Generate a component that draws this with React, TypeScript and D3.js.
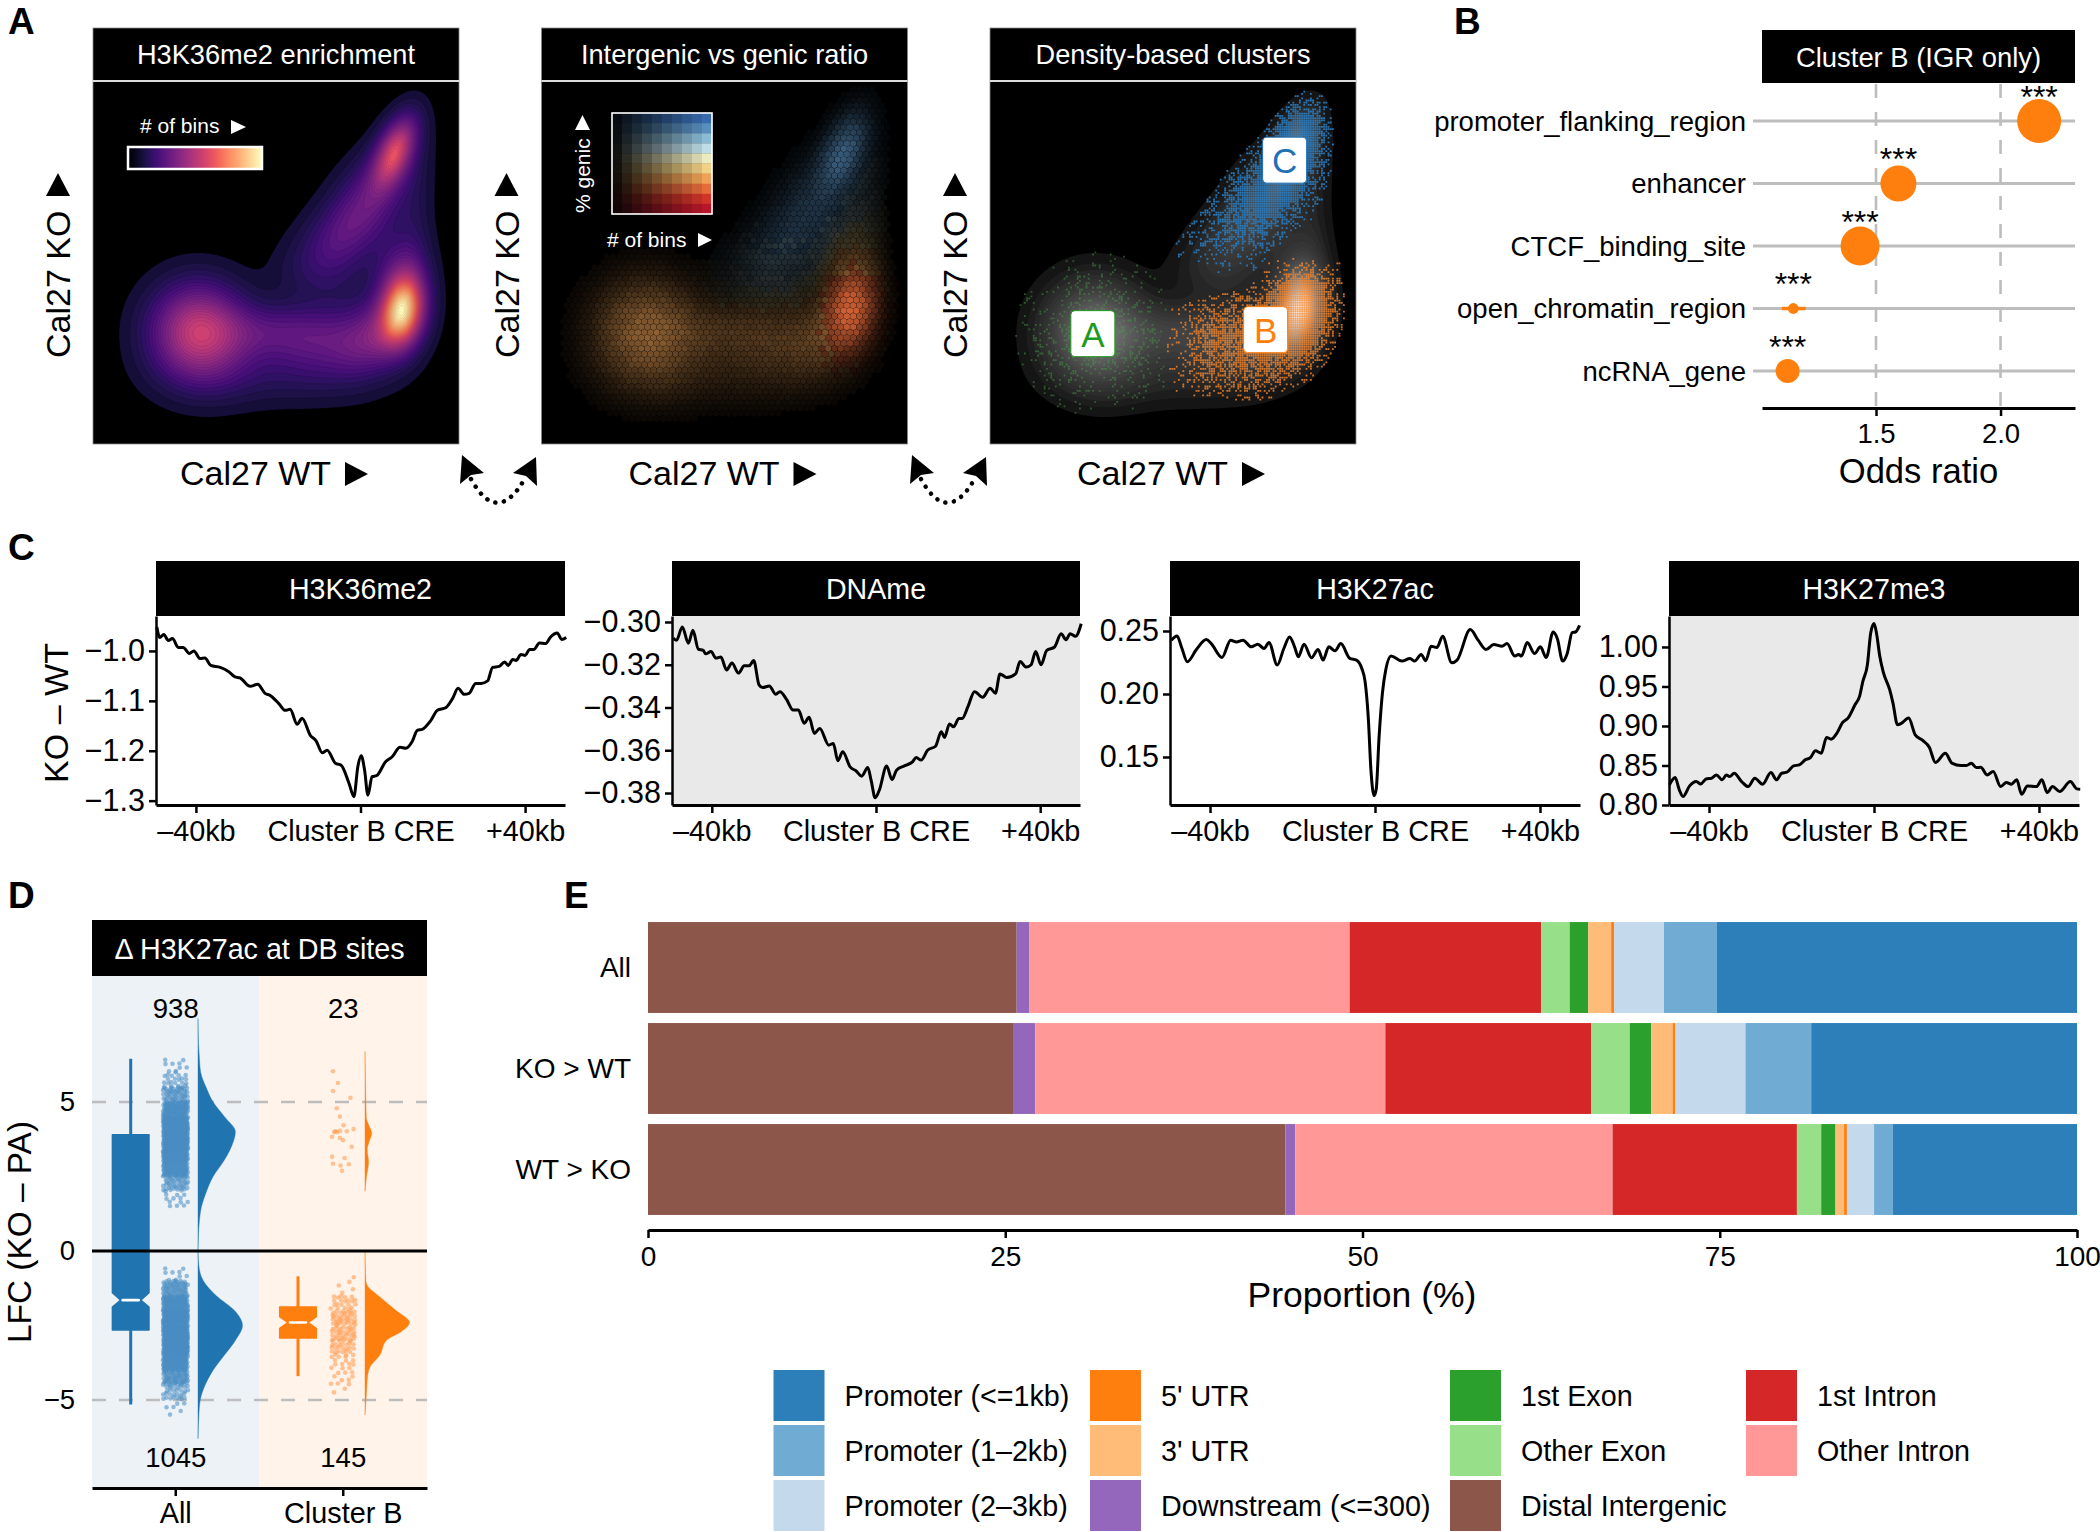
import React, { useEffect, useRef } from "react";
import * as d3 from "d3";

const FONT = "'Liberation Sans', Arial, sans-serif";

// ---------- Panel A: landscape of bins, described as Gaussian modes on the WT / KO axes (0-100)
const modeU = [28.7, 32, 84.5, 78, 64, 84, 48, 52, 82.5, 75, 66, 65, 88];
const modeV = [31.4, 22, 37, 30, 28, 48, 31, 18, 80.5, 67, 56, 46, 60];
const modeSU = [8.5, 10, 4.0, 7, 11, 5, 11, 18, 4.0, 8, 8.5, 9, 3.5];
const modeSV = [8.5, 7, 6.5, 7, 7, 7.5, 5, 5.5, 6.5, 10, 7.5, 6, 13];
const modeRho = [0, 0, 0.15, 0.3, 0.1, 0, 0, 0, 0.5, 0.55, 0.45, 0, 0];
const modeWeight = [0.45, 0.07, 0.82, 0.2, 0.17, 0.14, 0.13, 0.045, 0.5, 0.2, 0.1, 0.05, 0.05];
const modeGenic = [0.34, 0.34, 0.2, 0.31, 0.31, 0.31, 0.34, 0.34, 0.92, 0.9, 0.85, 0.6, 0.6];
const modeCluster = ["A", "A", "B", "B", "B", "B", "", "", "C", "C", "C", "", ""];
const genicRamp = ["#3a6fb5", "#5b93c6", "#8fc3de", "#c6e6f0", "#f6f5c8", "#fbd98a", "#f9a95a", "#ef6f3d", "#d9362a", "#c0182a"];
const clusterLabels = ["A", "B", "C"];
const clusterU = [28.1, 75.3, 80.5];
const clusterV = [30.4, 31.5, 78.2];
const clusterColors = ["#1f9a1f", "#ff7f0e", "#1f70b4"];
const panelATitles = ["H3K36me2 enrichment", "Intergenic vs genic ratio", "Density-based clusters"];
const panelALefts = [93, 541.5, 990];

// ---------- Panel B
const enrichNames = ["promoter_flanking_region", "enhancer", "CTCF_binding_site", "open_chromatin_region", "ncRNA_gene"];
const enrichOdds = [2.155, 1.59, 1.436, 1.168, 1.145];
const enrichSize = [22, 18, 19.5, 5.4, 12];

// ---------- Panel C
const tracesTitle = ["H3K36me2", "DNAme", "H3K27ac", "H3K27me3"];
const k36Kb = [-49.5,-48.8,-47.8,-46.7,-45.7,-44.3,-43.1,-41.6,-40.5,-39,-37.8,-36.4,-34.1,-32.1,-30.5,-29.3,-26.8,-25,-23.2,-22,-19.9,-18.3,-17.1,-15.4,-14.2,-12.2,-10.8,-9.3,-8.1,-6.1,-4.7,-2.8,-1.6,-0.65,0.16,1,1.8,2.8,3.9,6.1,7.7,9.6,11,12.6,13.8,15,17.1,18.7,20.7,22.4,23.7,25.2,26.4,28,29.3,30.9,32.1,33.7,35,35.9,37,37.8,39,40,41.1,42.1,43.5,45,46.2,47.8,48.9,50];
const k36Val = [-0.952,-0.973,-0.967,-0.979,-0.975,-0.993,-0.993,-1.005,-1,-1.015,-1.014,-1.029,-1.033,-1.041,-1.052,-1.054,-1.071,-1.067,-1.085,-1.089,-1.105,-1.119,-1.117,-1.147,-1.135,-1.169,-1.18,-1.204,-1.199,-1.225,-1.229,-1.265,-1.292,-1.232,-1.21,-1.239,-1.289,-1.252,-1.25,-1.222,-1.212,-1.193,-1.195,-1.181,-1.159,-1.157,-1.139,-1.119,-1.114,-1.095,-1.075,-1.087,-1.085,-1.065,-1.065,-1.06,-1.033,-1.031,-1.022,-1.029,-1.017,-1.019,-1.007,-1.009,-0.997,-0.997,-0.984,-0.985,-0.972,-0.964,-0.977,-0.973];
const dnaKb = [-49.4,-48.6,-47.2,-45.7,-44.6,-43.3,-42.1,-41.5,-40.2,-39,-37.8,-36.4,-35.1,-33.5,-32.1,-30.9,-29.8,-28.5,-27.6,-26,-24.4,-23.4,-21.8,-20.2,-18.9,-17.5,-16.3,-15,-13.7,-11.5,-10.4,-9.3,-8.1,-6.3,-4.9,-3.5,-2,-1.2,-0.2,0.8,2.6,3.9,5,6.9,8.9,9.8,11,12.6,14.5,15.9,16.7,17.9,18.9,20.2,21,22.4,24,26,27.8,29.1,30.2,31.9,34,35.1,36.6,37.8,38.9,40.2,41.6,43.5,45.1,46.3,47.3,48.6,50];
const dnaVal = [-0.3075,-0.3086,-0.3023,-0.3099,-0.3039,-0.3127,-0.3133,-0.3149,-0.3138,-0.3169,-0.3164,-0.3224,-0.3192,-0.3239,-0.3205,-0.3205,-0.318,-0.3294,-0.3307,-0.3299,-0.3338,-0.3326,-0.3362,-0.3412,-0.3412,-0.3474,-0.3446,-0.3521,-0.3498,-0.3576,-0.3568,-0.3649,-0.3607,-0.3678,-0.3696,-0.3721,-0.3681,-0.374,-0.3822,-0.3787,-0.3674,-0.3737,-0.3693,-0.3673,-0.3654,-0.3634,-0.3646,-0.3599,-0.3581,-0.3513,-0.354,-0.3477,-0.349,-0.3451,-0.3451,-0.3396,-0.3326,-0.3352,-0.331,-0.3333,-0.3243,-0.326,-0.3243,-0.3185,-0.3211,-0.32,-0.3138,-0.32,-0.3133,-0.3117,-0.3055,-0.3083,-0.3055,-0.3067,-0.3008];
const k27acKb = [-49.4,-48,-46.8,-45.5,-43.3,-40.9,-39.7,-37.1,-35,-33.6,-32,-30,-28.4,-26.9,-25.7,-23.7,-22.1,-20.7,-19.5,-18.6,-17.2,-15.4,-13.8,-12.6,-11.2,-9.7,-8.3,-6.1,-4.5,-3.2,-2.4,-1.6,-1,-0.2,0.3,1,1.8,2.6,3.9,6.5,8.5,9.6,11.2,12.3,13.6,15,16.4,18.6,19.9,23.1,25,26.9,28.8,30.8,32,33.9,34.8,35.5,36.9,38.7,40.1,41.5,43.2,44.2,45.5,46.6,47.8,48.6,49.6];
const k27acVal = [0.2427,0.2461,0.2361,0.2256,0.2353,0.2432,0.24,0.229,0.2427,0.2413,0.2427,0.2374,0.2395,0.2361,0.2408,0.223,0.2361,0.2453,0.2374,0.2295,0.2395,0.2287,0.2353,0.2269,0.2374,0.2343,0.24,0.2282,0.2269,0.2203,0.2098,0.1797,0.1403,0.1193,0.1245,0.1665,0.2007,0.219,0.2301,0.2261,0.2282,0.2261,0.2314,0.2264,0.2379,0.2369,0.2458,0.2248,0.2269,0.2511,0.2427,0.2353,0.2392,0.2379,0.24,0.2301,0.2314,0.2301,0.2408,0.2322,0.2374,0.229,0.2492,0.244,0.2261,0.2322,0.2487,0.2492,0.2545];
const k27me3Kb = [-49.6,-48.2,-47.2,-46.3,-44.7,-43.1,-42,-40.7,-39.4,-38.2,-36.8,-35.8,-35,-33.9,-32.1,-30.5,-28.9,-27,-25,-23.6,-22.4,-21.1,-19.5,-18.1,-16.7,-15.4,-14.2,-12.8,-11.5,-10.4,-8.9,-7.6,-6.3,-4.6,-3.5,-2.7,-1.6,-0.8,0,0.6,1.4,2.2,3.8,4.6,5.7,6.7,8.4,10,11.8,13.4,14.9,17.3,18.9,21.1,22.4,23.6,24.8,25.9,27.4,28.9,30.7,32.1,33.3,34.6,35.8,37.2,39.4,40.7,42,43.3,45,47.6,49.2,50];
const k27me3Val = [0.8254,0.8347,0.8191,0.8107,0.8242,0.8297,0.8267,0.833,0.8339,0.8381,0.8318,0.8381,0.836,0.8402,0.8297,0.8233,0.8339,0.8263,0.8411,0.8318,0.8402,0.8415,0.8495,0.8508,0.8571,0.8601,0.8686,0.8656,0.8855,0.8833,0.8918,0.9045,0.91,0.9269,0.9374,0.9565,0.9776,1.0178,1.0296,1.0178,0.9882,0.9691,0.9459,0.929,0.9015,0.9036,0.91,0.8888,0.8817,0.8732,0.8538,0.8656,0.8529,0.8499,0.8499,0.8529,0.8474,0.8478,0.8381,0.8423,0.8233,0.8284,0.8263,0.8318,0.8136,0.8242,0.8233,0.8318,0.8157,0.8233,0.817,0.8297,0.8204,0.82];
const k36Ticks = [-1.0, -1.1, -1.2, -1.3];
const dnaTicks = [-0.3, -0.32, -0.34, -0.36, -0.38];
const k27acTicks = [0.25, 0.2, 0.15];
const k27me3Ticks = [1.0, 0.95, 0.9, 0.85, 0.8];
const kbTicks = [-40, 0, 40];

// ---------- Panel D
const boxGroups = ["All", "Cluster B"];
const allBox = { q1: -2.65, med: -1.65, q3: 3.9, lo: -5.15, hi: 6.45, notchLo: -1.88, notchHi: -1.4 };
const clusterBBox = { q1: -2.92, med: -2.4, q3: -1.88, lo: -4.2, hi: -0.85, notchLo: -2.6, notchHi: -2.2 };
const allUpBinLo = [1.5, 2, 2.5, 3, 3.5, 4, 4.5, 5, 5.5, 6];
const allUpCounts = [12, 45, 115, 165, 205, 190, 120, 55, 22, 9];
const allDownBinLo = [-5.5, -5, -4.5, -4, -3.5, -3, -2.5, -2, -1.5, -1];
const allDownCounts = [6, 30, 75, 135, 190, 215, 190, 130, 65, 9];
const bDownBinLo = [-5, -4.5, -4, -3.5, -3, -2.5, -2, -1.5, -1];
const bDownCounts = [2, 10, 13, 26, 33, 35, 21, 4, 1];
const bUpValues = [6.03, 5.64, 5.37, 5.14, 4.79, 4.51, 4.22, 4.09, 4.02, 4.02, 4.03, 3.99, 3.83, 3.79, 3.72, 3.5, 3.16, 3.12, 2.93, 2.87, 2.91, 2.69, 3.99];
const bUpJitter = [-0.8, -0.4, -0.8, 0.6, -0.5, -0.25, 0.05, 0.85, 0.3, -0.6, -0.25, -0.7, -0.87, -0.25, 0, 0.7, -0.87, 0.13, -0.8, -0.2, 0.47, -0.08, -0.47];
const allUpDensY = [7.8, 7, 6.5, 6, 5.5, 5, 4.5, 4, 3.5, 3, 2.5, 2, 1.5, 1, 0.5, 0];
const allUpDens = [0, 0.01, 0.03, 0.06, 0.18, 0.34, 0.6, 0.84, 0.75, 0.57, 0.34, 0.19, 0.08, 0.03, 0.01, 0];
const allDownDensY = [0, -0.5, -1, -1.5, -2, -2.5, -3, -3.5, -4, -4.5, -5, -5.5, -6.3];
const allDownDens = [0, 0.02, 0.12, 0.41, 0.82, 1, 0.84, 0.59, 0.34, 0.16, 0.05, 0.02, 0];
const bUpDensY = [6.7, 5, 4.47, 4.2, 3.95, 3.66, 3.4, 3, 2.45, 2];
const bUpDens = [0, 0.02, 0.03, 0.09, 0.15, 0.09, 0.05, 0.08, 0.03, 0];
const bDownDensY = [0, -1, -1.2, -1.5, -2, -2.4, -2.7, -3, -3.5, -3.9, -4.3, -4.6, -5.5];
const bDownDens = [0, 0.02, 0.07, 0.3, 0.7, 1, 0.82, 0.48, 0.33, 0.11, 0.05, 0.04, 0];
const upCountsText = ["938", "23"];
const downCountsText = ["1045", "145"];

// ---------- Panel E
const annotNames = ["Distal Intergenic", "Downstream (<=300)", "Other Intron", "1st Intron", "Other Exon", "1st Exon", "3' UTR", "5' UTR", "Promoter (2\u20133kb)", "Promoter (1\u20132kb)", "Promoter (<=1kb)"];
const annotColors = ["#8c564b", "#9467bd", "#ff9896", "#d62728", "#98df8a", "#2ca02c", "#ffbb78", "#ff7f0e", "#c5d9ed", "#6fabd3", "#2c7fb8"];
const annotRows = ["All", "KO > WT", "WT > KO"];
const annotAll = [25.8, 0.9, 22.4, 13.4, 2.0, 1.3, 1.6, 0.2, 3.5, 3.7, 25.2];
const annotKoUp = [25.6, 1.5, 24.5, 14.4, 2.7, 1.5, 1.5, 0.2, 4.9, 4.6, 18.6];
const annotWtUp = [44.6, 0.7, 22.2, 12.9, 1.7, 1.0, 0.6, 0.2, 1.9, 1.3, 12.9];
const legendColumns = [
  ["Promoter (<=1kb)", "Promoter (1\u20132kb)", "Promoter (2\u20133kb)"],
  ["5' UTR", "3' UTR", "Downstream (<=300)"],
  ["1st Exon", "Other Exon", "Distal Intergenic"],
  ["1st Intron", "Other Intron"],
];
const legendX = [773.5, 1090, 1450, 1746];

const hash = (i: number, j: number) => {
  const s = Math.sin(i * 12.9898 + j * 78.233) * 43758.5453;
  return s - Math.floor(s);
};

export default function App() {
  const ref = useRef<SVGSVGElement | null>(null);

  useEffect(() => {
    const svg = d3.select(ref.current);
    svg.selectAll("*").remove();
    const root = svg.append("g").attr("font-family", FONT).attr("fill", "#000");

    const txt = (g: any, s: string, x: number, y: number, size: number, anchor = "start", fill = "#000", weight = "normal", rot = 0) =>
      g.append("text").text(s).attr("x", 0).attr("y", 0)
        .attr("transform", `translate(${x},${y})${rot ? ` rotate(${rot})` : ""}`)
        .attr("font-size", size).attr("text-anchor", anchor).attr("fill", fill).attr("font-weight", weight);
    const poly = (g: any, pts: number[][], fill: string) =>
      g.append("path").attr("d", d3.line()(pts as any) + "Z").attr("fill", fill);
    const triUp = (g: any, cx: number, top: number, w: number, h: number, fill = "#000") =>
      poly(g, [[cx - w / 2, top + h], [cx + w / 2, top + h], [cx, top]], fill);
    const triRight = (g: any, left: number, cy: number, w: number, h: number, fill = "#000") =>
      poly(g, [[left, cy - h / 2], [left, cy + h / 2], [left + w, cy]], fill);

    [["A", 8, 34], ["B", 1454, 34], ["C", 8, 560], ["D", 8, 908], ["E", 564, 908]].forEach(([s, x, y]) =>
      txt(root, s as string, x as number, y as number, 37, "start", "#000", "bold"));

    // ----- density field shared by panel A
    const N = 200;
    const modes = modeU.map((u, i) => ({ u, v: modeV[i], su: modeSU[i], sv: modeSV[i], r: modeRho[i], w: modeWeight[i], g: modeGenic[i], c: modeCluster[i] }));
    const evalMode = (m: any, u: number, v: number) => {
      const a = (u - m.u) / m.su, b = (v - m.v) / m.sv;
      return m.w * Math.exp(-(a * a - 2 * m.r * a * b + b * b) / (2 * (1 - m.r * m.r)));
    };
    const raw = new Float64Array(N * N);
    let top = 0;
    for (let j = 0; j < N; j++) for (let i = 0; i < N; i++) {
      const u = ((i + 0.5) / N) * 100, v = 100 - ((j + 0.5) / N) * 100;
      let s = 0;
      for (const m of modes) s += evalMode(m, u, v);
      raw[j * N + i] = s;
      if (s > top) top = s;
    }
    const field = Array.from(raw, (d) => d / top);
    const fieldAt = (u: number, v: number) => {
      let s = 0;
      for (const m of modes) s += evalMode(m, u, v);
      return s / top;
    };
    const thresholds = d3.range(0.02, 1, 0.024);
    const contours = d3.contours().size([N, N]).thresholds(thresholds)(field);

    const wtDomain = [0, 100], koDomain = [0, 100];
    const pw = 366, plotTop = 81, plotBottom = 444;
    const yA = d3.scaleLinear(koDomain, [plotBottom, plotTop]);

    panelALefts.forEach((left, pi) => {
      const xA = d3.scaleLinear(wtDomain, [left, left + pw]);
      const g = root.append("g");
      g.append("rect").attr("x", left).attr("y", 28).attr("width", pw).attr("height", 416).attr("fill", "#000").attr("stroke", "#888").attr("stroke-width", 0.8);
      g.append("line").attr("x1", left).attr("x2", left + pw).attr("y1", 81).attr("y2", 81).attr("stroke", "#ddd").attr("stroke-width", 2);
      txt(g, panelATitles[pi], left + pw / 2, 64, 27.2, "middle", "#fff");
      const proj = d3.geoPath(d3.geoTransform({
        point(this: any, x: number, y: number) {
          this.stream.point(xA((x / N) * 100), yA(100 - (y / N) * 100));
        },
      }) as any);

      if (pi === 0) {
        g.append("g").selectAll("path").data(contours).join("path")
          .attr("d", (d: any) => proj(d))
          .attr("fill", (d: any) => d3.interpolateMagma(0.08 + 0.92 * Math.pow(d.value, 0.95)))
          .attr("stroke", "#000").attr("stroke-opacity", 0.14).attr("stroke-width", 0.6);
        const grad = svg.append("defs").append("linearGradient").attr("id", "magmaBar");
        d3.range(0, 1.001, 0.05).forEach((t) => grad.append("stop").attr("offset", t).attr("stop-color", d3.interpolateMagma(t)));
        g.append("rect").attr("x", 128).attr("y", 147).attr("width", 134).attr("height", 22).attr("fill", "url(#magmaBar)").attr("stroke", "#fff").attr("stroke-width", 2.5);
        txt(g, "# of bins", 140, 133, 21, "start", "#fff");
        triRight(g, 231, 127, 15, 14, "#fff");
      }

      const rampColor = (row: number, col: number) => d3.interpolateRgb("#050505", genicRamp[row])((col + 0.6) / 10);

      if (pi === 1) {
        const r = 3.6, dx = Math.sqrt(3) * r, dy = 1.5 * r;
        const byColor = new Map<string, string>();
        const hexD = (cx: number, cy: number) => {
          const p = d3.range(6).map((k) => {
            const a = Math.PI / 6 + (k * Math.PI) / 3;
            return `${(cx + 0.96 * r * Math.cos(a)).toFixed(1)},${(cy + 0.96 * r * Math.sin(a)).toFixed(1)}`;
          });
          return "M" + p.join("L") + "Z";
        };
        let row = 0;
        for (let cy = plotTop + 3; cy < plotBottom - 2; cy += dy, row++) {
          let col = 0;
          for (let cx = left + (row % 2 ? dx / 2 : 0) + 3; cx < left + pw - 2; cx += dx, col++) {
            const u = xA.invert(cx), v = yA.invert(cy);
            const f = fieldAt(u, v);
            if (f < 0.012) continue;
            let gs = 0, ws = 0;
            for (const m of modes) { const e = evalMode(m, u, v); gs += e * m.g; ws += e; }
            const gen = gs / ws + (hash(col, row) - 0.5) * 0.06;
            const rIdx = Math.max(0, Math.min(9, Math.round((1 - gen) * 9)));
            const bright = Math.pow(f, 0.72) * 0.88 * (0.93 + 0.14 * hash(row, col));
            const color = d3.interpolateRgb("#000", genicRamp[rIdx])(Math.max(bright, 0.02));
            const key = d3.color(color)!.formatHex();
            byColor.set(key, (byColor.get(key) || "") + hexD(cx, cy));
          }
        }
        byColor.forEach((d, color) => g.append("path").attr("d", d).attr("fill", color));
        // legend
        const lx = d3.scaleBand(d3.range(10), [612, 712]);
        const ly = d3.scaleBand(d3.range(10), [113, 214]);
        d3.range(10).forEach((rw) => d3.range(10).forEach((cl) => {
          g.append("rect").attr("x", lx(cl)!).attr("y", ly(rw)!).attr("width", lx.bandwidth() + 0.3).attr("height", ly.bandwidth() + 0.3).attr("fill", rampColor(rw, cl));
        }));
        g.append("rect").attr("x", 612).attr("y", 113).attr("width", 100).attr("height", 101).attr("fill", "none").attr("stroke", "#fff").attr("stroke-width", 1.6);
        txt(g, "% genic", 590, 213, 21, "start", "#fff", "normal", -90);
        triUp(g, 582.5, 115, 15, 15, "#fff");
        txt(g, "# of bins", 607, 247, 21, "start", "#fff");
        triRight(g, 698, 240, 14, 14, "#fff");
      }

      if (pi === 2) {
        const grey = d3.scaleLinear<string>([0, 0.08, 0.45, 0.68, 1], ["#0e0e0e", "#2a2a2a", "#6e6e6e", "#a8a8a8", "#fafafa"]);
        g.append("g").selectAll("path").data(contours).join("path")
          .attr("d", (d: any) => proj(d)).attr("fill", (d: any) => grey(d.value));
        const step = 2.2;
        const paths: Record<string, string> = { A: "", B: "", C: "" };
        const fade = (t: number) => Math.max(0, Math.min(1, t));
        let ii = 0;
        for (let cx = left + 1; cx < left + pw; cx += step, ii++) {
          let jj = 0;
          for (let cy = plotTop + 1; cy < plotBottom; cy += step, jj++) {
            const u = xA.invert(cx), v = yA.invert(cy);
            const parts: Record<string, number> = { A: 0, B: 0, C: 0 };
            for (const m of modes) if (m.c) parts[m.c] += evalMode(m, u, v);
            const best = (["A", "B", "C"] as const).reduce((a, b) => (parts[b] > parts[a] ? b : a));
            const p = parts[best] / top;
            if (p < 0.016) continue;
            const gain = best === "A" ? 0.55 : best === "B" ? 2.2 : 3.0;
            let prob = gain * Math.pow(p, 0.62);
            if (best === "B") prob *= fade((u - 46) / 14) * fade((52 - v) / 9);
            if (best === "C") prob *= fade((v - 47) / 22);
            if (prob > hash(ii, jj)) paths[best] += `M${cx.toFixed(1)},${cy.toFixed(1)}h1.8v1.8h-1.8Z`;
          }
        }
        g.append("path").attr("d", paths.A).attr("fill", "#43a043").attr("opacity", 0.5);
        g.append("path").attr("d", paths.B).attr("fill", "#ff8a2a").attr("opacity", 0.8);
        g.append("path").attr("d", paths.C).attr("fill", "#2a7cc0").attr("opacity", 0.92);
        clusterLabels.forEach((s, i) => {
          const bx = xA(clusterU[i]), by = yA(clusterV[i]);
          g.append("rect").attr("x", bx - 22).attr("y", by - 23).attr("width", 44).attr("height", 46).attr("rx", 4).attr("fill", "#fff").attr("stroke", clusterColors[i]).attr("stroke-width", 1);
          txt(g, s, bx, by + 13, 35, "middle", clusterColors[i]);
        });
      }

      // axis captions
      txt(root, "Cal27 WT", left + 87, 485, 34);
      triRight(root, left + 252, 474, 23, 24);
      txt(root, "Cal27 KO", left - 23, 358, 34, "start", "#000", "normal", -90);
      triUp(root, left - 35, 173, 24, 23);
    });

    // dotted arrows between landscape panels
    [0, 450].forEach((off) => {
      const g = root.append("g").attr("transform", `translate(${off},0)`);
      g.append("path").attr("d", "M471,479Q497,526 524,480").attr("fill", "none").attr("stroke", "#000").attr("stroke-width", 4.5).attr("stroke-linecap", "round").attr("stroke-dasharray", "0.1 8.6");
      poly(g, [[462, 455], [460, 484], [471, 475], [484, 473]], "#000");
      poly(g, [[536, 457], [513, 473], [526, 476], [537, 486]], "#000");
    });

    // ----- Panel B
    {
      const g = root.append("g");
      const x = d3.scaleLinear([1.0422, 2.299], [1762, 2075]);
      const y = d3.scalePoint(enrichNames, [121, 371]);
      g.append("rect").attr("x", 1762).attr("y", 30).attr("width", 313).attr("height", 53).attr("fill", "#000");
      txt(g, "Cluster B (IGR only)", 1918.5, 67, 27.4, "middle", "#fff");
      [1.5, 2.0].forEach((t) => g.append("line").attr("x1", x(t)).attr("x2", x(t)).attr("y1", 84).attr("y2", 406).attr("stroke", "#bdbdbd").attr("stroke-width", 2.6).attr("stroke-dasharray", "14 14"));
      enrichNames.forEach((n, i) => {
        const yy = y(n)!;
        g.append("line").attr("x1", 1753).attr("x2", 2075).attr("y1", yy).attr("y2", yy).attr("stroke", "#bdbdbd").attr("stroke-width", 3);
        txt(g, n, 1746, yy + 9.5, 27.5, "end");
        if (n === "open_chromatin_region") g.append("line").attr("x1", x(1.122)).attr("x2", x(1.218)).attr("y1", yy).attr("y2", yy).attr("stroke", "#ff7f0e").attr("stroke-width", 3.5);
        g.append("circle").attr("cx", x(enrichOdds[i])).attr("cy", yy).attr("r", enrichSize[i]).attr("fill", "#ff7f0e");
        txt(g, "***", x(enrichOdds[i]), yy - 13.5, 32, "middle");
      });
      const ax = g.append("g").attr("transform", "translate(0,408)").call(d3.axisBottom(x).tickValues([1.5, 2.0]).tickFormat(d3.format(".1f")).tickSize(8).tickSizeOuter(0));
      ax.select(".domain").attr("stroke-width", 3);
      ax.selectAll(".tick line").attr("stroke-width", 2.5);
      ax.selectAll("text").attr("font-family", FONT).attr("font-size", 27.5).attr("y", 15).attr("fill", "#000");
      txt(g, "Odds ratio", 1918.5, 483, 34.6, "middle");
    }

    // ----- Panel C
    const tracePanels = [
      { left: 156, right: 565, kb: k36Kb, val: k36Val, dom: [-1.3087, -0.93], ticks: k36Ticks, fmt: ".1f", bg: "#fff" },
      { left: 672, right: 1080, kb: dnaKb, val: dnaVal, dom: [-0.3856, -0.2972], ticks: dnaTicks, fmt: ".2f", bg: "#e9e9e9" },
      { left: 1170, right: 1580, kb: k27acKb, val: k27acVal, dom: [0.1119, 0.2619], ticks: k27acTicks, fmt: ".2f", bg: "#fff" },
      { left: 1669, right: 2079, kb: k27me3Kb, val: k27me3Val, dom: [0.8, 1.0392], ticks: k27me3Ticks, fmt: ".2f", bg: "#e9e9e9" },
    ];
    tracePanels.forEach((p, i) => {
      const g = root.append("g");
      const x = d3.scaleLinear([-49.7, 49.7], [p.left, p.right]);
      const y = d3.scaleLinear(p.dom, [805, 616]);
      g.append("rect").attr("x", p.left).attr("y", 616).attr("width", p.right - p.left).attr("height", 189).attr("fill", p.bg);
      g.append("rect").attr("x", p.left).attr("y", 561).attr("width", p.right - p.left).attr("height", 55).attr("fill", "#000");
      txt(g, tracesTitle[i], (p.left + p.right) / 2, 599, 28.6, "middle", "#fff");
      const line = d3.line<number>().x((_, k) => x(p.kb[k])).y((d) => y(d)).curve(d3.curveMonotoneX);
      g.append("path").attr("d", line(p.val)!).attr("fill", "none").attr("stroke", "#000").attr("stroke-width", 3).attr("stroke-linejoin", "round");
      const ay = g.append("g").attr("transform", `translate(${p.left},0)`).call(d3.axisLeft(y).tickValues(p.ticks).tickFormat(d3.format(p.fmt)).tickSize(7).tickSizeOuter(0));
      ay.select(".domain").attr("stroke-width", 2.5);
      ay.selectAll(".tick line").attr("stroke-width", 2.5);
      ay.selectAll("text").attr("font-family", FONT).attr("font-size", 30.5).attr("x", -11).attr("fill", "#000");
      const ax = g.append("g").attr("transform", "translate(0,805)").call(d3.axisBottom(x).tickValues(kbTicks).tickFormat((d: any) => (d === 0 ? "Cluster B CRE" : d < 0 ? `\u2013${-d}kb` : `+${d}kb`)).tickSize(8).tickSizeOuter(0));
      ax.select(".domain").attr("stroke-width", 3);
      ax.selectAll(".tick line").attr("stroke-width", 2.5);
      ax.selectAll("text").attr("font-family", FONT).attr("font-size", 28.8).attr("y", 16).attr("fill", "#000");
    });
    txt(root, "KO \u2013 WT", 68, 713, 34, "middle", "#000", "normal", -90);

    // ----- Panel D
    {
      const g = root.append("g");
      const y = d3.scaleLinear([-5, 5], [1400, 1102]);
      const band = d3.scaleBand(boxGroups, [92, 427]);
      g.append("rect").attr("x", 92).attr("y", 976).attr("width", 167.5).attr("height", 512).attr("fill", "#edf2f7");
      g.append("rect").attr("x", 259.5).attr("y", 976).attr("width", 167.5).attr("height", 512).attr("fill", "#fff3ea");
      g.append("rect").attr("x", 92).attr("y", 920).attr("width", 335).attr("height", 56).attr("fill", "#000");
      txt(g, "\u0394 H3K27ac at DB sites", 259.5, 959, 28.7, "middle", "#fff");
      [5, -5].forEach((v) => g.append("line").attr("x1", 92).attr("x2", 427).attr("y1", y(v)).attr("y2", y(v)).attr("stroke", "#bdbdbd").attr("stroke-width", 2.6).attr("stroke-dasharray", "14 13"));

      const groups = [
        { name: "All", box: allBox, color: "#2074b0", dot: "#4a8cc2", bx: 130.7, jx: 175.5, base: 198,
          bins: [[allUpBinLo, allUpCounts], [allDownBinLo, allDownCounts]], dens: [[allUpDensY, allUpDens], [allDownDensY, allDownDens]] },
        { name: "Cluster B", box: clusterBBox, color: "#ff7f0e", dot: "#ff9a4d", bx: 298, jx: 343, base: 365,
          bins: [[bDownBinLo, bDownCounts]], dens: [[bUpDensY, bUpDens], [bDownDensY, bDownDens]] },
      ];
      const rainW = d3.scaleLinear([0, 1], [0, 44.5]);
      groups.forEach((gr) => {
        // raincloud half-violin
        gr.dens.forEach(([ys, ds]) => {
          const area = d3.area<number>().y((_, k) => y(ys[k])).x0(gr.base).x1((d) => gr.base + rainW(d)).curve(d3.curveMonotoneY);
          g.append("path").attr("d", area(ds)!).attr("fill", gr.color).attr("stroke", gr.color).attr("stroke-width", 0.4);
        });
        // jittered points
        const pts: number[][] = [];
        gr.bins.forEach(([los, counts]) => los.forEach((lo, b) => {
          d3.range(counts[b]).forEach((k) => {
            const fy = ((k + 1) * 0.7548776662 + b * 0.31) % 1;
            const fx = ((k + 1) * 0.5698402910 + b * 0.17) % 1;
            pts.push([lo + fy * 0.5, fx * 2 - 1]);
          });
        }));
        if (gr.name === "Cluster B") bUpValues.forEach((v, k) => pts.push([v, bUpJitter[k]]));
        g.append("g").selectAll("circle").data(pts).join("circle")
          .attr("cx", (d) => gr.jx + d[1] * 12.5).attr("cy", (d) => y(d[0])).attr("r", 2.3)
          .attr("fill", gr.dot).attr("fill-opacity", 0.56);
        // notched box
        const b = gr.box, hw = 18.3, nw = 10;
        const bx = gr.bx;
        g.append("line").attr("x1", bx).attr("x2", bx).attr("y1", y(b.hi)).attr("y2", y(b.lo)).attr("stroke", gr.color).attr("stroke-width", 3);
        const pathD = d3.line()([
          [bx - hw, y(b.q3)], [bx + hw, y(b.q3)], [bx + hw, y(b.notchHi)], [bx + nw, y(b.med)], [bx + hw, y(b.notchLo)],
          [bx + hw, y(b.q1)], [bx - hw, y(b.q1)], [bx - hw, y(b.notchLo)], [bx - nw, y(b.med)], [bx - hw, y(b.notchHi)],
        ] as any) + "Z";
        g.append("path").attr("d", pathD).attr("fill", gr.color).attr("stroke", gr.color).attr("stroke-width", 1.5).attr("stroke-linejoin", "round");
        g.append("line").attr("x1", bx - nw + 2).attr("x2", bx + nw - 2).attr("y1", y(b.med)).attr("y2", y(b.med)).attr("stroke", "#fff").attr("stroke-width", 2.6).attr("stroke-linecap", "round");
      });
      g.append("line").attr("x1", 92).attr("x2", 427).attr("y1", y(0)).attr("y2", y(0)).attr("stroke", "#000").attr("stroke-width", 3);
      boxGroups.forEach((n, i) => {
        const cx = band(n)! + band.bandwidth() / 2;
        txt(g, upCountsText[i], cx, 1018, 27.5, "middle");
        txt(g, downCountsText[i], cx, 1466.5, 27.5, "middle");
      });
      const ax = g.append("g").attr("transform", "translate(0,1488)").call(d3.axisBottom(band).tickSize(8).tickSizeOuter(0));
      ax.select(".domain").attr("stroke-width", 3);
      ax.selectAll(".tick line").attr("stroke-width", 2.5);
      ax.selectAll("text").attr("font-family", FONT).attr("font-size", 28.8).attr("y", 15).attr("fill", "#000");
      const ay = g.append("g").attr("transform", "translate(92,0)").call(d3.axisLeft(y).tickValues([-5, 0, 5]).tickFormat(d3.format("d")).tickSize(0));
      ay.select(".domain").remove();
      ay.selectAll("text").attr("font-family", FONT).attr("font-size", 27.5).attr("x", -17).attr("fill", "#000");
      txt(g, "LFC (KO \u2013 PA)", 31, 1232, 33.4, "middle", "#000", "normal", -90);
    }

    // ----- Panel E
    {
      const g = root.append("g");
      const x = d3.scaleLinear([0, 100], [648, 2077]);
      const y = d3.scaleBand(annotRows, [917, 1220]).paddingInner(0.1).paddingOuter(0.05);
      const table = annotRows.map((r, i) => {
        const vals = [annotAll, annotKoUp, annotWtUp][i];
        const o: any = { row: r };
        annotNames.forEach((n, k) => (o[n] = vals[k]));
        return o;
      });
      const stacked = d3.stack().keys(annotNames)(table);
      stacked.forEach((layer: any, k: number) => {
        g.append("g").selectAll("rect").data(layer).join("rect")
          .attr("x", (d: any) => x(d[0])).attr("width", (d: any) => x(d[1]) - x(d[0]))
          .attr("y", (d: any) => y(d.data.row)!).attr("height", y.bandwidth()).attr("fill", annotColors[k]);
      });
      annotRows.forEach((r) => txt(g, r, 631, y(r)! + y.bandwidth() / 2 + 9.5, 28, "end"));
      const ax = g.append("g").attr("transform", "translate(0,1230)").call(d3.axisBottom(x).tickValues([0, 25, 50, 75, 100]).tickSize(8).tickSizeOuter(0));
      ax.select(".domain").attr("stroke-width", 3);
      ax.selectAll(".tick line").attr("stroke-width", 2.5);
      ax.selectAll("text").attr("font-family", FONT).attr("font-size", 28).attr("y", 16).attr("fill", "#000");
      txt(g, "Proportion (%)", 1362, 1307, 35.5, "middle");
      legendColumns.forEach((col, ci) => col.forEach((name, ri) => {
        const top = 1370 + ri * 55;
        g.append("rect").attr("x", legendX[ci]).attr("y", top).attr("width", 51).attr("height", 51).attr("fill", annotColors[annotNames.indexOf(name)]);
        txt(g, name, legendX[ci] + 71, top + 36, 28.7);
      }));
    }
  }, []);

  return <svg ref={ref} width={2100} height={1532} viewBox="0 0 2100 1532" style={{ position: "absolute", left: 0, top: 0, display: "block", background: "#fff" }} />;
}
